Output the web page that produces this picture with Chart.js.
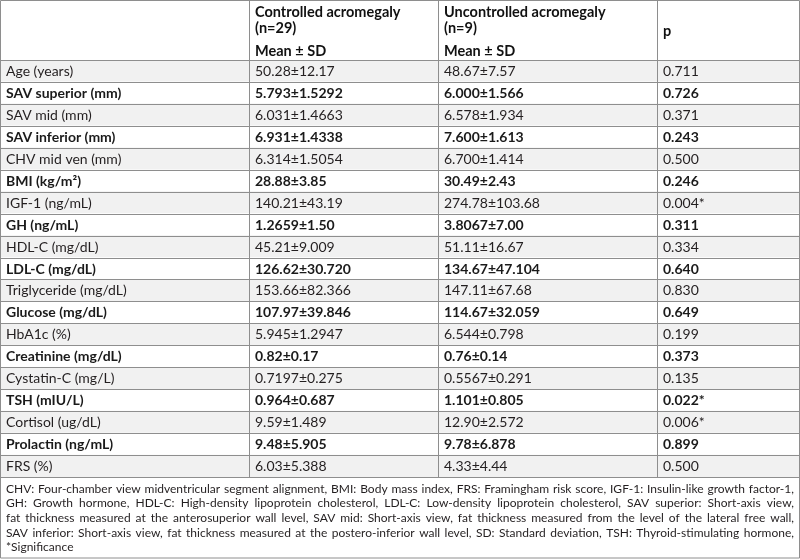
<!DOCTYPE html>
<html>
<head>
<meta charset="utf-8">
<script src="https://cdn.jsdelivr.net/npm/chart.js@4.4.1/dist/chart.umd.min.js"></script>
<style>
  html, body { margin: 0; padding: 0; background: #fff; }
  #wrap { width: 800px; height: 560px; }
</style>
</head>
<body>
<div id="wrap"><canvas id="stats-table"></canvas></div>
<script>
const variables = [
  'Age (years)', 'SAV superior (mm)', 'SAV mid (mm)', 'SAV inferior (mm)', 'CHV mid ven (mm)',
  'BMI (kg/m²)', 'IGF-1 (ng/mL)', 'GH (ng/mL)', 'HDL-C (mg/dL)', 'LDL-C (mg/dL)',
  'Triglyceride (mg/dL)', 'Glucose (mg/dL)', 'HbA1c (%)', 'Creatinine (mg/dL)', 'Cystatin-C (mg/L)',
  'TSH (mIU/L)', 'Cortisol (ug/dL)', 'Prolactin (ng/mL)', 'FRS (%)',
]
const controlled = [
  '50.28±12.17', '5.793±1.5292', '6.031±1.4663', '6.931±1.4338', '6.314±1.5054',
  '28.88±3.85', '140.21±43.19', '1.2659±1.50', '45.21±9.009', '126.62±30.720',
  '153.66±82.366', '107.97±39.846', '5.945±1.2947', '0.82±0.17', '0.7197±0.275',
  '0.964±0.687', '9.59±1.489', '9.48±5.905', '6.03±5.388',
]
const uncontrolled = [
  '48.67±7.57', '6.000±1.566', '6.578±1.934', '7.600±1.613', '6.700±1.414',
  '30.49±2.43', '274.78±103.68', '3.8067±7.00', '51.11±16.67', '134.67±47.104',
  '147.11±67.68', '114.67±32.059', '6.544±0.798', '0.76±0.14', '0.5567±0.291',
  '1.101±0.805', '12.90±2.572', '9.78±6.878', '4.33±4.44',
]
const pValues = [
  '0.711', '0.726', '0.371', '0.243', '0.500',
  '0.246', '0.004*', '0.311', '0.334', '0.640',
  '0.830', '0.649', '0.199', '0.373', '0.135',
  '0.022*', '0.006*', '0.899', '0.500',
]
const headControlled = ['Controlled acromegaly', '(n=29)', 'Mean ± SD']
const headUncontrolled = ['Uncontrolled acromegaly', '(n=9)', 'Mean ± SD']
const headP = 'p'
const notes = [
  'CHV: Four-chamber view midventricular segment alignment, BMI: Body mass index, FRS: Framingham risk score, IGF-1: Insulin-like growth factor-1,',
  'GH: Growth hormone, HDL-C: High-density lipoprotein cholesterol, LDL-C: Low-density lipoprotein cholesterol, SAV superior: Short-axis view,',
  'fat thickness measured at the anterosuperior wall level, SAV mid: Short-axis view, fat thickness measured from the level of the lateral free wall,',
  'SAV inferior: Short-axis view, fat thickness measured at the postero-inferior wall level, SD: Standard deviation, TSH: Thyroid-stimulating hormone,',
  '*Significance',
]

// column edges on the x scale
const colEdges = [0, 249, 438, 657, 800]
const lineColor = '#8e8e8e'
const textColor = '#231f20'
const family = 'Lato, sans-serif'

const tablePlugin = {
  id: 'tablePlugin',
  afterDatasetsDraw(chart) {
    const { ctx, chartArea, scales: { x, y } } = chart
    const W = chart.width
    const rowH = y.getPixelForValue(1) - y.getPixelForValue(0)
    ctx.save()

    // horizontal rules
    ctx.strokeStyle = lineColor
    ctx.lineWidth = 1
    ctx.beginPath()
    for (let i = 0; i <= variables.length; i++) {
      const py = Math.round(y.getPixelForValue(i) - rowH / 2) + 0.5
      ctx.moveTo(0, py); ctx.lineTo(W, py)
    }
    // vertical rules
    colEdges.slice(1, -1).forEach(e => {
      const px = Math.round(x.getPixelForValue(e)) + 0.5
      ctx.moveTo(px, 0.5); ctx.lineTo(px, chartArea.bottom)
    })
    // outer frame
    ctx.rect(0.5, 0.5, W - 1, 558 - 0.5)
    ctx.stroke()

    // body cells
    ctx.textBaseline = 'alphabetic'
    const cols = [variables, controlled, uncontrolled, pValues]
    variables.forEach((_, i) => {
      ctx.font = (i % 2 ? '700 ' : '400 ') + '14px ' + family
      ctx.fillStyle = i % 2 ? '#1a1a1a' : textColor
      const py = y.getPixelForValue(i) + 5
      cols.forEach((col, c) => {
        ctx.fillText(col[i], x.getPixelForValue(colEdges[c]) + 6, py)
      })
    })

    // header
    ctx.fillStyle = '#111'
    ctx.font = '700 14.5px ' + family
    const hb = [17, 32.5, 55.5]
    headControlled.forEach((t, k) => ctx.fillText(t, x.getPixelForValue(colEdges[1]) + 6, hb[k]))
    headUncontrolled.forEach((t, k) => ctx.fillText(t, x.getPixelForValue(colEdges[2]) + 6, hb[k]))
    ctx.fillText(headP, x.getPixelForValue(colEdges[3]) + 6, 36)

    // footnote, justified
    ctx.fillStyle = textColor
    const left = 6, right = W - 6, span = right - left
    let fs = 12
    ctx.font = fs + 'px ' + family
    while (Math.max(...notes.map(l => ctx.measureText(l).width)) > span && fs > 8) {
      fs -= 0.25
      ctx.font = fs + 'px ' + family
    }
    notes.forEach((line, k) => {
      const by = 492.5 + k * 14.7
      const words = line.split(' ')
      if (k === notes.length - 1) { ctx.fillText(line, left, by); return }
      const wordsW = words.reduce((s, w) => s + ctx.measureText(w).width, 0)
      const gap = (span - wordsW) / (words.length - 1)
      let cx = left
      words.forEach(w => { ctx.fillText(w, cx, by); cx += ctx.measureText(w).width + gap })
    })
    ctx.restore()
  },
}

new Chart(document.getElementById('stats-table'), {
  type: 'bar',
  data: {
    labels: variables,
    datasets: [
      {
        label: 'rows',
        data: variables.map(() => [colEdges[0], colEdges[colEdges.length - 1]]),
        backgroundColor: variables.map((_, i) => (i % 2 ? '#ffffff' : '#f1f1f1')),
        barPercentage: 1,
        categoryPercentage: 1,
        borderWidth: 0,
      },
    ],
  },
  options: {
    indexAxis: 'y',
    responsive: true,
    maintainAspectRatio: false,
    animation: false,
    events: [],
    layout: { padding: { top: 60, bottom: 83, left: 0, right: 0 } },
    scales: {
      x: { type: 'linear', display: false, min: colEdges[0], max: colEdges[colEdges.length - 1] },
      y: { type: 'category', display: false, offset: true },
    },
    plugins: { legend: { display: false }, tooltip: { enabled: false } },
  },
  plugins: [tablePlugin],
})
</script>
</body>
</html>
